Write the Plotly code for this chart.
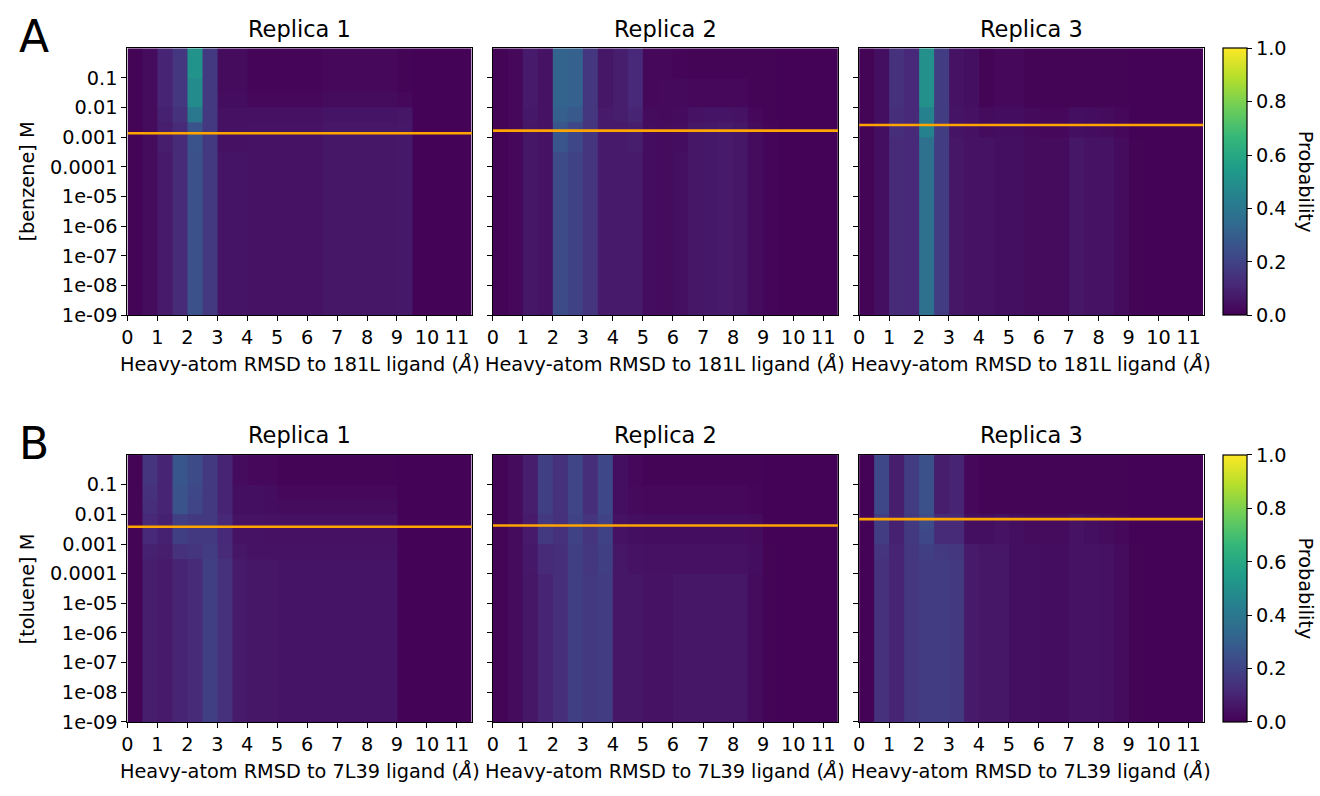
import plotly.graph_objects as go

# ---------------- data ----------------
rmsd_edges = [0.0, 0.5, 1.0, 1.5, 2.0, 2.5, 3.0, 3.5, 4.0, 4.5, 5.0, 5.5, 6.0,
              6.5, 7.0, 7.5, 8.0, 8.5, 9.0, 9.5, 10.0, 10.5, 11.0, 11.5]
conc_edges = [1e-9, 3.162e-9, 1e-8, 3.162e-8, 1e-7, 3.162e-7, 1e-6, 3.162e-6,
              1e-5, 3.162e-5, 1e-4, 3.162e-4, 1e-3, 3.162e-3, 1e-2, 3.162e-2,
              1e-1, 3.162e-1, 1.0]
x_ticks = [0, 1, 2, 3, 4, 5, 6, 7, 8, 9, 10, 11]
y_tickvals = [1e-1, 1e-2, 1e-3, 1e-4, 1e-5, 1e-6, 1e-7, 1e-8, 1e-9]
y_ticktext = ["0.1", "0.01", "0.001", "0.0001", "1e-05", "1e-06", "1e-07", "1e-08", "1e-09"]
cbar_ticks = [0.0, 0.2, 0.4, 0.6, 0.8, 1.0]

replica_titles = ["Replica 1", "Replica 2", "Replica 3"]
ligand_names = ["benzene", "toluene"]
reference_ids = ["181L", "7L39"]
panel_letters = ["A", "B"]

# probability rows listed from highest concentration (top) to lowest (bottom)
benzene_rep1 = [
    [.01,.03,.10,.16,.51,.17,.03,.03,.015,.015,.015,.015,.015,.02,.02,.02,.02,.02,.01,.005,.005,.005,.005],
    [.01,.03,.10,.16,.51,.17,.03,.03,.015,.015,.015,.015,.015,.02,.02,.02,.02,.02,.01,.005,.005,.005,.005],
    [.01,.03,.10,.16,.48,.17,.03,.03,.015,.015,.015,.015,.015,.02,.02,.02,.02,.02,.01,.005,.005,.005,.005],
    [.01,.03,.10,.16,.48,.17,.035,.035,.02,.02,.02,.02,.02,.03,.03,.03,.03,.03,.02,.005,.005,.005,.005],
    [.01,.03,.09,.14,.40,.17,.045,.045,.045,.045,.045,.045,.045,.055,.055,.055,.055,.055,.06,.005,.005,.005,.005],
    [.01,.03,.08,.12,.26,.17,.045,.045,.05,.05,.05,.05,.05,.06,.06,.06,.06,.06,.065,.005,.005,.005,.005],
    [.01,.03,.08,.12,.26,.17,.045,.045,.05,.05,.05,.05,.05,.06,.06,.06,.06,.06,.065,.005,.005,.005,.005],
    [.01,.03,.07,.12,.25,.17,.055,.055,.05,.05,.05,.05,.05,.06,.06,.06,.06,.06,.065,.005,.005,.005,.005],
    [.01,.03,.07,.12,.25,.17,.055,.055,.05,.05,.05,.05,.05,.06,.06,.06,.06,.06,.065,.005,.005,.005,.005],
    [.01,.03,.07,.12,.25,.17,.055,.055,.05,.05,.05,.05,.05,.06,.06,.06,.06,.06,.065,.005,.005,.005,.005],
    [.01,.03,.07,.12,.25,.17,.055,.055,.05,.05,.05,.05,.05,.06,.06,.06,.06,.06,.065,.005,.005,.005,.005],
    [.01,.03,.07,.12,.25,.17,.055,.055,.05,.05,.05,.05,.05,.06,.06,.06,.06,.06,.065,.005,.005,.005,.005],
    [.01,.03,.07,.12,.25,.17,.055,.055,.05,.05,.05,.05,.05,.06,.06,.06,.06,.06,.065,.005,.005,.005,.005],
    [.01,.03,.07,.12,.25,.17,.055,.055,.05,.05,.05,.05,.05,.06,.06,.06,.06,.06,.065,.005,.005,.005,.005],
    [.01,.03,.07,.12,.25,.17,.055,.055,.05,.05,.05,.05,.05,.06,.06,.06,.06,.06,.065,.005,.005,.005,.005],
    [.01,.03,.07,.12,.25,.17,.055,.055,.05,.05,.05,.05,.05,.06,.06,.06,.06,.06,.065,.005,.005,.005,.005],
    [.01,.03,.07,.12,.25,.17,.055,.055,.05,.05,.05,.05,.05,.06,.06,.06,.06,.06,.065,.005,.005,.005,.005],
    [.01,.03,.07,.12,.25,.17,.055,.055,.05,.05,.05,.05,.05,.06,.06,.06,.06,.06,.065,.005,.005,.005,.005],
]
benzene_rep2 = [
    [.01,.02,.07,.05,.32,.31,.16,.06,.08,.11,.02,.02,.015,.01,.01,.01,.01,.01,.01,.005,.005,.005,.005],
    [.01,.02,.07,.05,.32,.31,.16,.06,.08,.11,.02,.02,.015,.01,.01,.01,.01,.01,.01,.005,.005,.005,.005],
    [.01,.02,.07,.05,.32,.31,.16,.06,.08,.11,.02,.025,.025,.02,.02,.02,.02,.01,.01,.005,.005,.005,.005],
    [.01,.02,.07,.05,.32,.31,.16,.06,.08,.11,.02,.025,.025,.02,.02,.02,.02,.01,.01,.005,.005,.005,.005],
    [.01,.02,.065,.05,.30,.28,.16,.07,.08,.10,.03,.025,.03,.05,.055,.055,.05,.02,.01,.005,.005,.005,.005],
    [.01,.02,.06,.05,.27,.22,.15,.07,.07,.08,.035,.03,.035,.06,.065,.07,.06,.03,.015,.005,.005,.005,.005],
    [.01,.02,.06,.05,.27,.22,.15,.07,.07,.08,.035,.03,.035,.06,.065,.07,.06,.03,.015,.005,.005,.005,.005],
    [.01,.02,.06,.05,.23,.20,.15,.07,.07,.07,.035,.03,.04,.06,.065,.07,.06,.03,.015,.005,.005,.005,.005],
    [.01,.02,.06,.05,.23,.20,.15,.07,.07,.07,.035,.03,.04,.06,.065,.07,.06,.03,.015,.005,.005,.005,.005],
    [.01,.02,.06,.05,.23,.20,.15,.07,.07,.07,.035,.03,.04,.06,.065,.07,.06,.03,.015,.005,.005,.005,.005],
    [.01,.02,.06,.05,.23,.20,.15,.07,.07,.07,.035,.03,.04,.06,.065,.07,.06,.03,.015,.005,.005,.005,.005],
    [.01,.02,.06,.05,.23,.20,.15,.07,.07,.07,.035,.03,.04,.06,.065,.07,.06,.03,.015,.005,.005,.005,.005],
    [.01,.02,.06,.05,.23,.20,.15,.07,.07,.07,.035,.03,.04,.06,.065,.07,.06,.03,.015,.005,.005,.005,.005],
    [.01,.02,.06,.05,.23,.20,.15,.07,.07,.07,.035,.03,.04,.06,.065,.07,.06,.03,.015,.005,.005,.005,.005],
    [.01,.02,.06,.05,.23,.20,.15,.07,.07,.07,.035,.03,.04,.06,.065,.07,.06,.03,.015,.005,.005,.005,.005],
    [.01,.02,.06,.05,.23,.20,.15,.07,.07,.07,.035,.03,.04,.06,.065,.07,.06,.03,.015,.005,.005,.005,.005],
    [.01,.02,.06,.05,.23,.20,.15,.07,.07,.07,.035,.03,.04,.06,.065,.07,.06,.03,.015,.005,.005,.005,.005],
    [.01,.02,.06,.05,.23,.20,.15,.07,.07,.07,.035,.03,.04,.06,.065,.07,.06,.03,.015,.005,.005,.005,.005],
]
benzene_rep3 = [
    [.01,.04,.14,.11,.50,.18,.05,.04,.01,.02,.02,.01,.01,.01,.01,.01,.01,.01,.005,.005,.005,.005,.005],
    [.01,.04,.14,.11,.50,.18,.05,.04,.01,.02,.02,.01,.01,.01,.01,.01,.01,.01,.005,.005,.005,.005,.005],
    [.01,.04,.14,.11,.50,.18,.05,.04,.01,.02,.02,.01,.01,.01,.01,.01,.01,.01,.005,.005,.005,.005,.005],
    [.01,.04,.14,.11,.50,.18,.05,.04,.01,.02,.02,.01,.01,.01,.01,.01,.01,.01,.005,.005,.005,.005,.005],
    [.01,.04,.13,.11,.44,.18,.055,.045,.03,.035,.035,.025,.02,.02,.04,.035,.03,.02,.005,.005,.005,.005,.005],
    [.01,.04,.13,.11,.44,.18,.055,.045,.03,.035,.035,.025,.02,.02,.04,.035,.03,.02,.005,.005,.005,.005,.005],
    [.01,.04,.12,.11,.37,.18,.06,.05,.05,.04,.04,.03,.03,.03,.06,.05,.05,.03,.01,.005,.005,.005,.005],
    [.01,.04,.12,.11,.37,.18,.06,.05,.05,.04,.04,.03,.03,.03,.06,.05,.05,.03,.01,.005,.005,.005,.005],
    [.01,.04,.12,.11,.37,.18,.06,.05,.05,.04,.04,.03,.03,.03,.06,.05,.05,.03,.01,.005,.005,.005,.005],
    [.01,.04,.12,.11,.37,.18,.06,.05,.05,.04,.04,.03,.03,.03,.06,.05,.05,.03,.01,.005,.005,.005,.005],
    [.01,.04,.12,.11,.37,.18,.06,.05,.05,.04,.04,.03,.03,.03,.06,.05,.05,.03,.01,.005,.005,.005,.005],
    [.01,.04,.12,.11,.37,.18,.06,.05,.05,.04,.04,.03,.03,.03,.06,.05,.05,.03,.01,.005,.005,.005,.005],
    [.01,.04,.12,.11,.37,.18,.06,.05,.05,.04,.04,.03,.03,.03,.06,.05,.05,.03,.01,.005,.005,.005,.005],
    [.01,.04,.12,.11,.37,.18,.06,.05,.05,.04,.04,.03,.03,.03,.06,.05,.05,.03,.01,.005,.005,.005,.005],
    [.01,.04,.12,.11,.37,.18,.06,.05,.05,.04,.04,.03,.03,.03,.06,.05,.05,.03,.01,.005,.005,.005,.005],
    [.01,.04,.12,.11,.37,.18,.06,.05,.05,.04,.04,.03,.03,.03,.06,.05,.05,.03,.01,.005,.005,.005,.005],
    [.01,.04,.12,.11,.37,.18,.06,.05,.05,.04,.04,.03,.03,.03,.06,.05,.05,.03,.01,.005,.005,.005,.005],
    [.01,.04,.12,.11,.37,.18,.06,.05,.05,.04,.04,.03,.03,.03,.06,.05,.05,.03,.01,.005,.005,.005,.005],
]
toluene_rep1 = [
    [.01,.15,.10,.27,.23,.17,.10,.03,.02,.02,.01,.01,.01,.01,.01,.01,.01,.01,.005,.005,.005,.005,.005],
    [.01,.15,.10,.27,.23,.17,.10,.03,.02,.02,.01,.01,.01,.01,.01,.01,.01,.01,.005,.005,.005,.005,.005],
    [.01,.14,.10,.26,.22,.17,.10,.04,.04,.035,.02,.02,.02,.02,.02,.02,.02,.02,.005,.005,.005,.005,.005],
    [.01,.13,.10,.26,.21,.17,.10,.04,.04,.035,.03,.03,.03,.03,.03,.03,.03,.03,.005,.005,.005,.005,.005],
    [.01,.11,.09,.19,.17,.17,.11,.05,.05,.045,.045,.045,.045,.045,.045,.045,.045,.045,.005,.005,.005,.005,.005],
    [.01,.11,.09,.19,.17,.17,.11,.05,.05,.045,.045,.045,.045,.045,.045,.045,.045,.045,.005,.005,.005,.005,.005],
    [.01,.09,.08,.14,.15,.18,.12,.06,.05,.05,.05,.05,.05,.05,.05,.05,.05,.05,.005,.005,.005,.005,.005],
    [.01,.08,.07,.10,.12,.19,.14,.07,.06,.06,.055,.055,.055,.055,.055,.055,.055,.055,.005,.005,.005,.005,.005],
    [.01,.08,.07,.10,.12,.19,.14,.07,.06,.06,.055,.055,.055,.055,.055,.055,.055,.055,.005,.005,.005,.005,.005],
    [.01,.08,.07,.10,.12,.19,.14,.07,.06,.06,.055,.055,.055,.055,.055,.055,.055,.055,.005,.005,.005,.005,.005],
    [.01,.08,.07,.10,.12,.19,.14,.07,.06,.06,.055,.055,.055,.055,.055,.055,.055,.055,.005,.005,.005,.005,.005],
    [.01,.08,.07,.10,.12,.19,.14,.07,.06,.06,.055,.055,.055,.055,.055,.055,.055,.055,.005,.005,.005,.005,.005],
    [.01,.08,.07,.10,.12,.19,.14,.07,.06,.06,.055,.055,.055,.055,.055,.055,.055,.055,.005,.005,.005,.005,.005],
    [.01,.08,.07,.10,.12,.19,.14,.07,.06,.06,.055,.055,.055,.055,.055,.055,.055,.055,.005,.005,.005,.005,.005],
    [.01,.08,.07,.10,.12,.19,.14,.07,.06,.06,.055,.055,.055,.055,.055,.055,.055,.055,.005,.005,.005,.005,.005],
    [.01,.08,.07,.10,.12,.19,.14,.07,.06,.06,.055,.055,.055,.055,.055,.055,.055,.055,.005,.005,.005,.005,.005],
    [.01,.08,.07,.10,.12,.19,.14,.07,.06,.06,.055,.055,.055,.055,.055,.055,.055,.055,.005,.005,.005,.005,.005],
    [.01,.08,.07,.10,.12,.19,.14,.07,.06,.06,.055,.055,.055,.055,.055,.055,.055,.055,.005,.005,.005,.005,.005],
]
toluene_rep2 = [
    [.01,.03,.08,.19,.14,.21,.13,.22,.04,.02,.01,.01,.01,.01,.01,.01,.01,.01,.005,.005,.005,.005,.005],
    [.01,.03,.08,.19,.14,.21,.13,.22,.04,.02,.01,.01,.01,.01,.01,.01,.01,.01,.005,.005,.005,.005,.005],
    [.01,.03,.08,.19,.14,.21,.13,.22,.04,.025,.02,.02,.02,.02,.02,.02,.02,.015,.005,.005,.005,.005,.005],
    [.01,.03,.08,.19,.14,.21,.13,.22,.04,.025,.02,.02,.02,.02,.02,.02,.02,.015,.005,.005,.005,.005,.005],
    [.01,.03,.07,.17,.14,.20,.15,.20,.05,.04,.035,.035,.035,.035,.035,.035,.035,.03,.005,.005,.005,.005,.005],
    [.01,.03,.07,.17,.14,.20,.15,.20,.05,.04,.035,.035,.035,.035,.035,.035,.035,.03,.005,.005,.005,.005,.005],
    [.01,.03,.065,.12,.13,.19,.16,.19,.06,.05,.045,.045,.045,.045,.045,.045,.045,.035,.01,.005,.005,.005,.005],
    [.01,.03,.065,.12,.13,.19,.16,.19,.06,.05,.045,.045,.045,.045,.045,.045,.045,.035,.01,.005,.005,.005,.005],
    [.01,.03,.06,.10,.13,.19,.17,.18,.06,.06,.05,.05,.06,.06,.06,.06,.06,.03,.01,.005,.005,.005,.005],
    [.01,.03,.06,.10,.13,.19,.17,.18,.06,.06,.05,.05,.06,.06,.06,.06,.06,.03,.01,.005,.005,.005,.005],
    [.01,.03,.06,.10,.13,.19,.17,.18,.06,.06,.05,.05,.06,.06,.06,.06,.06,.03,.01,.005,.005,.005,.005],
    [.01,.03,.06,.10,.13,.19,.17,.18,.06,.06,.05,.05,.06,.06,.06,.06,.06,.03,.01,.005,.005,.005,.005],
    [.01,.03,.06,.10,.13,.19,.17,.18,.06,.06,.05,.05,.06,.06,.06,.06,.06,.03,.01,.005,.005,.005,.005],
    [.01,.03,.06,.10,.13,.19,.17,.18,.06,.06,.05,.05,.06,.06,.06,.06,.06,.03,.01,.005,.005,.005,.005],
    [.01,.03,.06,.10,.13,.19,.17,.18,.06,.06,.05,.05,.06,.06,.06,.06,.06,.03,.01,.005,.005,.005,.005],
    [.01,.03,.06,.10,.13,.19,.17,.18,.06,.06,.05,.05,.06,.06,.06,.06,.06,.03,.01,.005,.005,.005,.005],
    [.01,.03,.06,.10,.13,.19,.17,.18,.06,.06,.05,.05,.06,.06,.06,.06,.06,.03,.01,.005,.005,.005,.005],
    [.01,.03,.06,.10,.13,.19,.17,.18,.06,.06,.05,.05,.06,.06,.06,.06,.06,.03,.01,.005,.005,.005,.005],
]
toluene_rep3 = [
    [.005,.22,.08,.18,.25,.08,.10,.02,.01,.01,.01,.01,.01,.01,.01,.01,.01,.01,.005,.005,.005,.005,.005],
    [.005,.22,.08,.18,.25,.08,.10,.02,.01,.01,.01,.01,.01,.01,.01,.01,.01,.01,.005,.005,.005,.005,.005],
    [.005,.22,.08,.18,.25,.08,.10,.02,.01,.01,.01,.01,.01,.01,.01,.01,.01,.01,.005,.005,.005,.005,.005],
    [.005,.22,.08,.18,.25,.08,.10,.02,.01,.01,.01,.01,.01,.01,.01,.01,.01,.01,.005,.005,.005,.005,.005],
    [.005,.18,.09,.17,.23,.12,.12,.04,.04,.05,.04,.03,.03,.03,.05,.04,.03,.02,.005,.005,.005,.005,.005],
    [.005,.18,.09,.17,.22,.12,.12,.04,.04,.05,.04,.03,.03,.03,.05,.04,.03,.02,.005,.005,.005,.005,.005],
    [.005,.15,.10,.16,.19,.17,.16,.07,.06,.06,.04,.04,.035,.035,.05,.05,.045,.03,.01,.005,.005,.005,.005],
    [.005,.14,.10,.16,.18,.18,.17,.07,.06,.06,.04,.04,.035,.035,.05,.05,.045,.03,.01,.005,.005,.005,.005],
    [.005,.14,.10,.16,.18,.18,.17,.07,.06,.06,.04,.04,.035,.035,.05,.05,.045,.03,.01,.005,.005,.005,.005],
    [.005,.14,.10,.16,.18,.18,.17,.07,.06,.06,.04,.04,.035,.035,.05,.05,.045,.03,.01,.005,.005,.005,.005],
    [.005,.14,.10,.16,.18,.18,.17,.07,.06,.06,.04,.04,.035,.035,.05,.05,.045,.03,.01,.005,.005,.005,.005],
    [.005,.14,.10,.16,.18,.18,.17,.07,.06,.06,.04,.04,.035,.035,.05,.05,.045,.03,.01,.005,.005,.005,.005],
    [.005,.14,.10,.16,.18,.18,.17,.07,.06,.06,.04,.04,.035,.035,.05,.05,.045,.03,.01,.005,.005,.005,.005],
    [.005,.14,.10,.16,.18,.18,.17,.07,.06,.06,.04,.04,.035,.035,.05,.05,.045,.03,.01,.005,.005,.005,.005],
    [.005,.14,.10,.16,.18,.18,.17,.07,.06,.06,.04,.04,.035,.035,.05,.05,.045,.03,.01,.005,.005,.005,.005],
    [.005,.14,.10,.16,.18,.18,.17,.07,.06,.06,.04,.04,.035,.035,.05,.05,.045,.03,.01,.005,.005,.005,.005],
    [.005,.14,.10,.16,.18,.18,.17,.07,.06,.06,.04,.04,.035,.035,.05,.05,.045,.03,.01,.005,.005,.005,.005],
    [.005,.14,.10,.16,.18,.18,.17,.07,.06,.06,.04,.04,.035,.035,.05,.05,.045,.03,.01,.005,.005,.005,.005],
]
# estimated threshold concentration (orange line) per panel, M
benzene_threshold = [0.00136, 0.00167, 0.00257]
toluene_threshold = [0.0038, 0.0042, 0.0069]

panels = [[benzene_rep1, benzene_rep2, benzene_rep3],
          [toluene_rep1, toluene_rep2, toluene_rep3]]
thresholds = [benzene_threshold, toluene_threshold]

# ---------------- layout geometry (pixels) ----------------
W, H = 1320, 796
FONT = "DejaVu Sans"
TICK_SIZE = 19.3
TITLE_SIZE = 22.5
col_px = [(122, 468), (489, 836), (857, 1203)]
row_px = [(49, 320), (462, 733)]
cbar_x0 = 1223


def px_x(p):
    return p / W


def px_y(p):
    return 1 - p / H


fig = go.Figure()
annotations = []
layout_axes = {}

for r in range(2):
    for c in range(3):
        idx = r * 3 + c + 1
        xa = "x" if idx == 1 else f"x{idx}"
        ya = "y" if idx == 1 else f"y{idx}"
        z_rows = panels[r][c][::-1]  # bottom (lowest conc) first
        fig.add_trace(go.Heatmap(
            x=rmsd_edges, y=conc_edges, z=z_rows,
            coloraxis="coloraxis" if r == 0 else "coloraxis2",
            xaxis=xa, yaxis=ya, hoverinfo="skip",
        ))
        t = thresholds[r][c]
        fig.add_trace(go.Scatter(
            x=[rmsd_edges[0], rmsd_edges[-1]], y=[t, t], mode="lines",
            line=dict(color="#ffa500", width=2.6), xaxis=xa, yaxis=ya,
            showlegend=False, hoverinfo="skip",
        ))
        axis_common = dict(showline=True, linecolor="black", linewidth=1.2, mirror=True,
                           ticks="outside", ticklen=5, tickwidth=1.2, tickcolor="black",
                           tickfont=dict(family=FONT, size=TICK_SIZE, color="black"),
                           showgrid=False, zeroline=False)
        layout_axes["xaxis" if idx == 1 else f"xaxis{idx}"] = dict(
            axis_common, domain=[px_x(col_px[c][0]), px_x(col_px[c][1])],
            anchor=ya, range=[rmsd_edges[0], rmsd_edges[-1]],
            tickmode="array", tickvals=x_ticks, ticktext=[str(v) for v in x_ticks],
        )
        layout_axes["yaxis" if idx == 1 else f"yaxis{idx}"] = dict(
            axis_common, domain=[px_y(row_px[r][1]), px_y(row_px[r][0])],
            anchor=xa, type="log", range=[-9, 0],
            tickmode="array", tickvals=y_tickvals, ticktext=y_ticktext,
            showticklabels=(c == 0),
        )
        xc = (col_px[c][0] + col_px[c][1]) / 2
        annotations.append(dict(text=replica_titles[c], x=px_x(xc), y=px_y(row_px[r][0] - 20),
                                xref="paper", yref="paper", showarrow=False,
                                xanchor="center", yanchor="middle",
                                font=dict(family=FONT, size=TITLE_SIZE, color="black")))
        annotations.append(dict(text=f"Heavy-atom RMSD to {reference_ids[r]} ligand (<i>Å</i>)",
                                x=px_x(xc), y=px_y(row_px[r][1] + 50),
                                xref="paper", yref="paper", showarrow=False,
                                xanchor="center", yanchor="middle",
                                font=dict(family=FONT, size=TICK_SIZE, color="black")))
    yc = (row_px[r][0] + row_px[r][1]) / 2
    annotations.append(dict(text=f"[{ligand_names[r]}] M", x=px_x(22), y=px_y(yc),
                            xref="paper", yref="paper", showarrow=False, textangle=-90,
                            xanchor="center", yanchor="middle",
                            font=dict(family=FONT, size=TICK_SIZE, color="black")))
    annotations.append(dict(text="Probability", x=px_x(1305), y=px_y(yc),
                            xref="paper", yref="paper", showarrow=False, textangle=90,
                            xanchor="center", yanchor="middle",
                            font=dict(family=FONT, size=TICK_SIZE, color="black")))
    annotations.append(dict(text=panel_letters[r], x=px_x(28), y=px_y(row_px[r][0] - 12),
                            xref="paper", yref="paper", showarrow=False,
                            xanchor="center", yanchor="middle",
                            font=dict(family=FONT, size=44, color="black")))


def cbar(r):
    return dict(
        colorscale="Viridis", cmin=0, cmax=1,
        colorbar=dict(
            x=px_x(cbar_x0), xanchor="left", xpad=0, thickness=24, thicknessmode="pixels",
            y=px_y((row_px[r][0] + row_px[r][1]) / 2), yanchor="middle", ypad=0,
            len=(row_px[r][1] - row_px[r][0]) / H, lenmode="fraction",
            outlinecolor="black", outlinewidth=1.2,
            ticks="outside", ticklen=5, tickwidth=1.2, tickcolor="black",
            tickmode="array", tickvals=cbar_ticks, ticktext=[f"{v:.1f}" for v in cbar_ticks],
            tickfont=dict(family=FONT, size=TICK_SIZE, color="black"),
        ),
    )


fig.update_layout(
    width=W, height=H, margin=dict(l=0, r=0, t=0, b=0),
    paper_bgcolor="white", plot_bgcolor="white",
    font=dict(family=FONT, size=TICK_SIZE, color="black"),
    coloraxis=cbar(0), coloraxis2=cbar(1),
    annotations=annotations, showlegend=False,
    **layout_axes,
)

fig.write_html("out.html")
